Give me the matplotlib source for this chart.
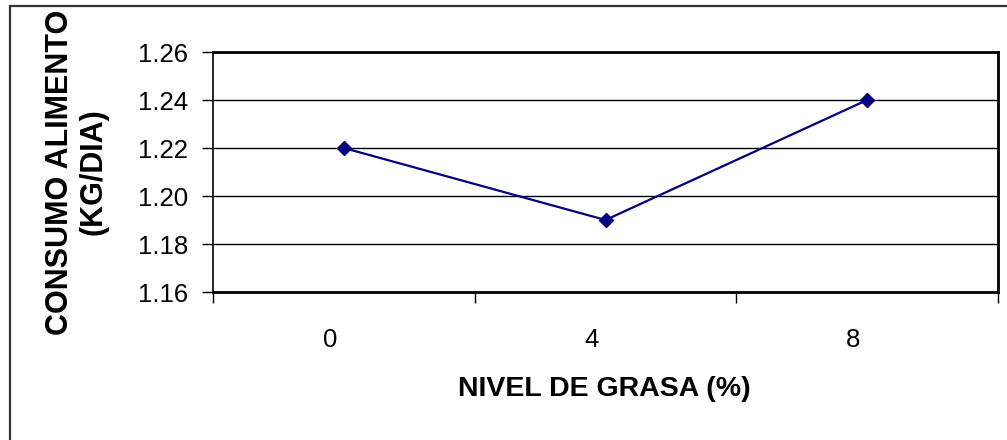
import matplotlib
matplotlib.use("Agg")
import matplotlib.pyplot as plt
from matplotlib.patches import Rectangle
from matplotlib.ticker import FixedLocator, FixedFormatter
from matplotlib.transforms import ScaledTranslation

categories = ["0", "4", "8"]
consumo = [1.22, 1.19, 1.24]
y_ticks = [1.16, 1.18, 1.20, 1.22, 1.24, 1.26]

plt.rcParams['font.family'] = ['Liberation Sans', 'DejaVu Sans']

W, H = 1007, 440
fig = plt.figure(figsize=(W / 100, H / 100), dpi=100)

# outer chart border (extends beyond right/bottom edges)
fig.patches.append(Rectangle((10 / W, -0.1), 1.2, 1 - 6 / H + 0.1,
                             transform=fig.transFigure, fill=False,
                             edgecolor='#333333', linewidth=1.6))

ax = fig.add_axes([213 / W, 1 - 292 / H, (998 - 213) / W, (292 - 52) / H])
x = list(range(len(categories)))
ax.plot(x, consumo, color='#000080', linewidth=1.6, marker='D',
        markersize=7.2, markerfacecolor='#000080', markeredgecolor='#000080')

ax.set_xlim(-0.5, len(categories) - 0.5)
ax.set_ylim(y_ticks[0], y_ticks[-1])
ax.set_yticks(y_ticks)
ax.set_yticklabels([f"{v:.2f}" for v in y_ticks], fontsize=18.5)
ax.yaxis.grid(True, color='black', linewidth=1)
ax.set_axisbelow(True)

ax.xaxis.set_major_locator(FixedLocator(x))
ax.xaxis.set_major_formatter(FixedFormatter(categories))
ax.xaxis.set_minor_locator(FixedLocator([i - 0.5 for i in range(len(categories) + 1)]))
ax.tick_params(axis='x', which='major', length=0, pad=26, labelsize=18.5)
ax.tick_params(axis='x', which='minor', length=8, width=1, direction='out')
ax.tick_params(axis='y', length=8, width=1, direction='out', pad=10)

shift = ScaledTranslation(-14 / 100, 0, fig.dpi_scale_trans)
for lbl in ax.get_xticklabels():
    lbl.set_transform(lbl.get_transform() + shift)

for s in ax.spines.values():
    s.set_color('black')
ax.spines['left'].set_linewidth(1.2)
ax.spines['bottom'].set_linewidth(2)
ax.spines['top'].set_linewidth(2)
ax.spines['right'].set_linewidth(2)

fig.text(604 / W, 1 - 389 / H, "NIVEL DE GRASA (%)", ha='center', va='center',
         fontsize=20.5, fontweight='bold')
fig.text(77 / W, 1 - 172 / H, "CONSUMO ALIMENTO\n(KG/DIA)", ha='center', va='center',
         rotation=90, fontsize=22, fontweight='bold', linespacing=1.15,
         multialignment='center')

fig.savefig("out.png", dpi=100)
